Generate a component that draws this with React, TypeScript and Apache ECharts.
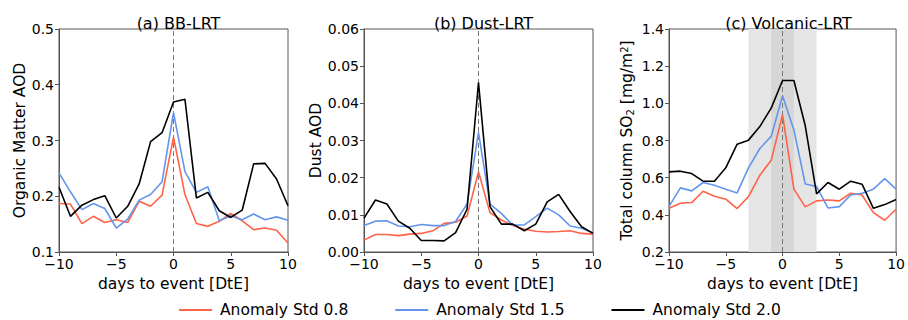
import React, { useEffect, useRef } from "react";
import * as echarts from "echarts";

const days = [-10, -9, -8, -7, -6, -5, -4, -3, -2, -1, 0, 1, 2, 3, 4, 5, 6, 7, 8, 9, 10];
const seriesNames = ["Anomaly Std 0.8", "Anomaly Std 1.5", "Anomaly Std 2.0"];
const seriesColors = ["#ff6347", "#6495ed", "#000000"];
const panelTitles = ["(a) BB-LRT", "(b) Dust-LRT", "(c) Volcanic-LRT"];
const xTicks = [-10, -5, 0, 5, 10];

// (a) BB-LRT — Organic Matter AOD
const bbStd08 = [0.187, 0.186, 0.151, 0.164, 0.153, 0.158, 0.153, 0.191, 0.182, 0.202, 0.306, 0.203, 0.151, 0.146, 0.155, 0.169, 0.156, 0.140, 0.143, 0.139, 0.116];
const bbStd15 = [0.242, 0.208, 0.176, 0.187, 0.178, 0.143, 0.159, 0.193, 0.203, 0.226, 0.350, 0.244, 0.207, 0.217, 0.156, 0.165, 0.158, 0.168, 0.158, 0.163, 0.157];
const bbStd20 = [0.216, 0.164, 0.184, 0.194, 0.201, 0.161, 0.182, 0.222, 0.298, 0.314, 0.369, 0.374, 0.197, 0.207, 0.174, 0.162, 0.175, 0.258, 0.259, 0.231, 0.183];

// (b) Dust-LRT — Dust AOD
const dustStd08 = [0.0032, 0.0047, 0.0047, 0.0044, 0.0048, 0.0050, 0.0057, 0.0077, 0.0080, 0.0097, 0.0216, 0.0106, 0.0086, 0.0071, 0.0061, 0.0056, 0.0054, 0.0055, 0.0057, 0.0050, 0.0048];
const dustStd15 = [0.0071, 0.0083, 0.0084, 0.0070, 0.0068, 0.0074, 0.0071, 0.0071, 0.0082, 0.0129, 0.0322, 0.0129, 0.0104, 0.0072, 0.0073, 0.0095, 0.0118, 0.0100, 0.0070, 0.0064, 0.0052];
const dustStd20 = [0.0091, 0.0140, 0.0129, 0.0083, 0.0064, 0.0031, 0.0031, 0.0030, 0.0052, 0.0115, 0.0456, 0.0122, 0.0075, 0.0075, 0.0057, 0.0075, 0.0135, 0.0155, 0.0109, 0.0068, 0.0050];

// (c) Volcanic-LRT — Total column SO2
const so2Std08 = [0.435, 0.462, 0.466, 0.527, 0.500, 0.484, 0.434, 0.498, 0.613, 0.694, 0.938, 0.538, 0.443, 0.475, 0.480, 0.475, 0.516, 0.507, 0.412, 0.371, 0.430];
const so2Std15 = [0.444, 0.545, 0.529, 0.574, 0.559, 0.538, 0.518, 0.653, 0.757, 0.822, 1.041, 0.857, 0.566, 0.552, 0.437, 0.444, 0.507, 0.516, 0.538, 0.595, 0.538];
const so2Std20 = [0.631, 0.635, 0.622, 0.581, 0.581, 0.653, 0.780, 0.802, 0.875, 0.974, 1.123, 1.123, 0.879, 0.513, 0.574, 0.538, 0.581, 0.565, 0.435, 0.455, 0.482];

const outerSpan = [-3, 3];
const innerSpan = [-1, 1];

const panelData = [
  [bbStd08, bbStd15, bbStd20],
  [dustStd08, dustStd15, dustStd20],
  [so2Std08, so2Std15, so2Std20],
];

const yMins = [0.1, 0, 0.2];
const yMaxs = [0.5, 0.06, 1.4];
const yIntervals = [0.1, 0.01, 0.2];
const yDecimals = [1, 2, 1];
const yNames = ["Organic Matter AOD", "Dust AOD", "Total column SO{sub|2} [mg/m{sup|2}]"];
const yNameGaps = [31, 39, 34];

const FONT = "DejaVu Sans";
const SPINE = "#555555";

export default function App() {
  const ref = useRef<HTMLDivElement>(null);
  useEffect(() => {
    if (!ref.current) return;
    const chart = echarts.init(ref.current, null, { renderer: "svg" });
    const gridLefts = [59, 364, 669];
    const gridW = 229;
    const gridTop = 29;
    const gridH = 223;

    const grids = gridLefts.map((l) => ({
      left: l,
      top: gridTop,
      width: gridW,
      height: gridH,
      show: true,
      borderColor: SPINE,
      borderWidth: 1,
      backgroundColor: "transparent",
    }));

    const xAxes = gridLefts.map((_, i) => ({
      type: "value",
      gridIndex: i,
      min: xTicks[0],
      max: xTicks[xTicks.length - 1],
      interval: 5,
      name: "days to event [DtE]",
      nameLocation: "middle",
      nameGap: 24,
      nameTextStyle: { fontFamily: FONT, fontSize: 15.5, color: "#000" },
      axisLine: { show: true, onZero: false, lineStyle: { color: SPINE, width: 1 } },
      axisTick: { show: true, length: 4, lineStyle: { color: SPINE } },
      axisLabel: {
        fontFamily: FONT,
        fontSize: 14,
        color: "#000",
        margin: 5,
        formatter: (v: number) => (v < 0 ? "\u2212" + Math.abs(v) : String(v)),
      },
      splitLine: { show: false },
    }));

    const yAxes = gridLefts.map((_, i) => ({
      type: "value",
      gridIndex: i,
      min: yMins[i],
      max: yMaxs[i],
      interval: yIntervals[i],
      name: yNames[i],
      nameLocation: "middle",
      nameGap: yNameGaps[i],
      nameRotate: 90,
      nameTextStyle: {
        fontFamily: FONT,
        fontSize: 15.5,
        color: "#000",
        rich: {
          sub: { fontFamily: FONT, fontSize: 10, color: "#000", verticalAlign: "bottom", padding: [6, 0, 0, 0] },
          sup: { fontFamily: FONT, fontSize: 10, color: "#000", verticalAlign: "top", padding: [0, 0, 6, 0] },
        },
      },
      axisLine: { show: true, onZero: false, lineStyle: { color: SPINE, width: 1 } },
      axisTick: { show: true, length: 4, lineStyle: { color: SPINE } },
      axisLabel: {
        fontFamily: FONT,
        fontSize: 14,
        color: "#000",
        margin: 5,
        formatter: (v: number) => v.toFixed(yDecimals[i]),
      },
      splitLine: { show: false },
    }));

    const series: any[] = [];
    panelData.forEach((panel, p) => {
      panel.forEach((vals, s) => {
        const item: any = {
          type: "line",
          name: seriesNames[s],
          xAxisIndex: p,
          yAxisIndex: p,
          data: days.map((d, k) => [d, vals[k]]),
          symbol: "none",
          lineStyle: { color: seriesColors[s], width: 1.6 },
          itemStyle: { color: seriesColors[s] },
          z: 3,
        };
        if (s === 0) {
          item.markLine = {
            silent: true,
            symbol: "none",
            label: { show: false },
            lineStyle: { color: "#777", type: [5, 3], width: 1 },
            z: 2,
            data: [{ xAxis: 0 }],
          };
          if (p === 2) {
            item.markArea = {
              silent: true,
              z: 1,
              data: [
                [{ xAxis: outerSpan[0], itemStyle: { color: "#e5e5e5" } }, { xAxis: outerSpan[1] }],
                [{ xAxis: innerSpan[0], itemStyle: { color: "#d6d6d6" } }, { xAxis: innerSpan[1] }],
              ],
            };
          }
        }
        series.push(item);
      });
    });

    chart.setOption({
      animation: false,
      backgroundColor: "#fff",
      textStyle: { fontFamily: FONT },
      title: gridLefts.map((l, i) => ({
        text: panelTitles[i],
        left: l + gridW / 2,
        top: 10,
        textAlign: "center",
        textStyle: { fontFamily: FONT, fontSize: 16, fontWeight: "normal", color: "#000" },
      })),
      legend: {
        data: seriesNames,
        left: 174,
        top: 297,
        icon: "rect",
        itemWidth: 33,
        itemHeight: 2,
        itemGap: 47,
        textStyle: { fontFamily: FONT, fontSize: 15.5, color: "#000", padding: [0, 0, 0, 3] },
      },
      grid: grids,
      xAxis: xAxes,
      yAxis: yAxes,
      series,
    });
    return () => chart.dispose();
  }, []);
  return <div ref={ref} style={{ width: 908, height: 320, position: "absolute", left: 0, top: 0 }} />;
}
